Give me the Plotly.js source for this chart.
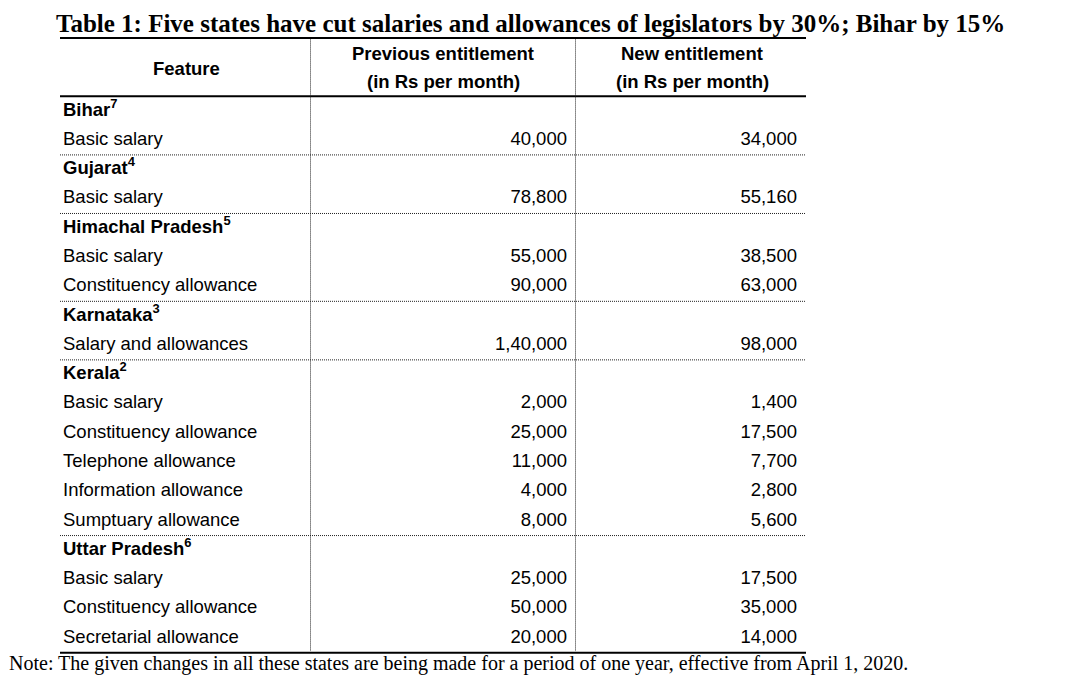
<!DOCTYPE html>
<html>
<head>
<meta charset="utf-8">
<script src="https://cdn.plot.ly/plotly-3.0.1.min.js"></script>
<style>html,body{margin:0;padding:0;background:#fff;}#chart{width:1090px;height:675px;}</style>
</head>
<body>
<div id="chart"></div>
<script>
// ---------- data ----------
const titleText = "Table 1: Five states have cut salaries and allowances of legislators by 30%; Bihar by 15%";
const colHeaders = ["Feature", "Previous entitlement", "New entitlement"];
const colSubHeaders = ["", "(in Rs per month)", "(in Rs per month)"];
const states = ["Bihar", "Gujarat", "Himachal Pradesh", "Karnataka", "Kerala", "Uttar Pradesh"];
const footnotes = ["7", "4", "5", "3", "2", "6"];
const items = [
  ["Basic salary"],
  ["Basic salary"],
  ["Basic salary", "Constituency allowance"],
  ["Salary and allowances"],
  ["Basic salary", "Constituency allowance", "Telephone allowance", "Information allowance", "Sumptuary allowance"],
  ["Basic salary", "Constituency allowance", "Secretarial allowance"]
];
const previous = [
  [40000],
  [78800],
  [55000, 90000],
  [140000],
  [2000, 25000, 11000, 4000, 8000],
  [25000, 50000, 20000]
];
const revised = [
  [34000],
  [55160],
  [38500, 63000],
  [98000],
  [1400, 17500, 7700, 2800, 5600],
  [17500, 35000, 14000]
];
const noteText = "Note: The given changes in all these states are being made for a period of one year, effective from April 1, 2020.";

// ---------- helpers ----------
function fmtIN(n) {
  const s = String(n);
  if (s.length <= 3) return s;
  const last3 = s.slice(-3);
  const rest = s.slice(0, -3).replace(/\B(?=(\d{2})+(?!\d))/g, ",");
  return rest + "," + last3;
}

// ---------- build rows ----------
const rowLabel = [], rowY = [], numY = [], prevTxt = [], newTxt = [], groupEnds = [];
let r = 0;
states.forEach((st, g) => {
  rowLabel.push("<b>" + st + "<sup>" + footnotes[g] + "</sup></b>");
  rowY.push(r); r++;
  items[g].forEach((it, k) => {
    rowLabel.push(it);
    rowY.push(r);
    numY.push(r);
    prevTxt.push(fmtIN(previous[g][k]));
    newTxt.push(fmtIN(revised[g][k]));
    r++;
  });
  groupEnds.push(r - 0.5);
});
const nRows = r;

// ---------- layout constants ----------
const W = 1090, H = 675;
const rowPx = 29.28, firstRowPx = 111;
const yTop = -firstRowPx / rowPx, yBot = (H - firstRowPx) / rowPx;
const pxToRow = p => (p - firstRowPx) / rowPx;
const tableL = 60, tableR = 806, div1 = 310.5, div2 = 575.5;
const labelX = 63, prevX = 567, newX = 797;
const bodyFont = "Liberation Sans, Arial, sans-serif";
const serif = "Liberation Serif, Times New Roman, serif";
const fs = 18.5;

const traces = [
  {type: "scatter", mode: "text", x: rowY.map(() => labelX), y: rowY, text: rowLabel,
   textposition: "middle right", textfont: {family: bodyFont, size: fs, color: "#000"},
   hoverinfo: "skip", showlegend: false},
  {type: "scatter", mode: "text", x: numY.map(() => prevX), y: numY, text: prevTxt,
   textposition: "middle left", textfont: {family: bodyFont, size: fs, color: "#000"},
   hoverinfo: "skip", showlegend: false},
  {type: "scatter", mode: "text", x: numY.map(() => newX), y: numY, text: newTxt,
   textposition: "middle left", textfont: {family: bodyFont, size: fs, color: "#000"},
   hoverinfo: "skip", showlegend: false}
];

const shapes = [];
const topY = pxToRow(38), headY = -0.5, botY = nRows - 0.5;
[topY, headY, botY].forEach(y => shapes.push({type: "line", xref: "x", yref: "y",
  x0: tableL, x1: tableR, y0: y, y1: y, line: {color: "#000", width: 2}}));
groupEnds.slice(0, -1).forEach(y => shapes.push({type: "line", xref: "x", yref: "y",
  x0: tableL, x1: tableR, y0: y, y1: y, line: {color: "#222", width: 1, dash: "1px,1px"}}));
[div1, div2].forEach(x => shapes.push({type: "line", xref: "x", yref: "y",
  x0: x, x1: x, y0: topY + 0.05, y1: botY - 0.04, line: {color: "#222", width: 1, dash: "1px,1px"}}));

const hdrX = [186, 443, 692];
const annotations = [
  {xref: "x", yref: "y", x: 530, y: pxToRow(23), text: "<b>" + titleText + "</b>", showarrow: false,
   xanchor: "center", yanchor: "middle", font: {family: serif, size: 25, color: "#000"}},
  {xref: "x", yref: "y", x: 7, y: pxToRow(663), text: noteText, showarrow: false,
   xanchor: "left", yanchor: "middle", font: {family: serif, size: 20, color: "#000"}}
];
colHeaders.forEach((h, i) => {
  if (colSubHeaders[i]) {
    annotations.push({xref: "x", yref: "y", x: hdrX[i], y: pxToRow(53), text: "<b>" + h + "</b>", showarrow: false,
      xanchor: "center", yanchor: "middle", font: {family: bodyFont, size: fs, color: "#000"}});
    annotations.push({xref: "x", yref: "y", x: hdrX[i], y: pxToRow(81), text: "<b>" + colSubHeaders[i] + "</b>", showarrow: false,
      xanchor: "center", yanchor: "middle", font: {family: bodyFont, size: fs, color: "#000"}});
  } else {
    annotations.push({xref: "x", yref: "y", x: hdrX[i], y: pxToRow(68), text: "<b>" + h + "</b>", showarrow: false,
      xanchor: "center", yanchor: "middle", font: {family: bodyFont, size: fs, color: "#000"}});
  }
});

const layout = {
  width: W, height: H,
  margin: {l: 0, r: 0, t: 0, b: 0, pad: 0},
  paper_bgcolor: "#fff", plot_bgcolor: "#fff",
  xaxis: {range: [0, W], visible: false, fixedrange: true},
  yaxis: {range: [yBot, yTop], visible: false, fixedrange: true},
  shapes: shapes, annotations: annotations, showlegend: false
};

Plotly.newPlot("chart", traces, layout, {staticPlot: true, displayModeBar: false});
</script>
</body>
</html>
